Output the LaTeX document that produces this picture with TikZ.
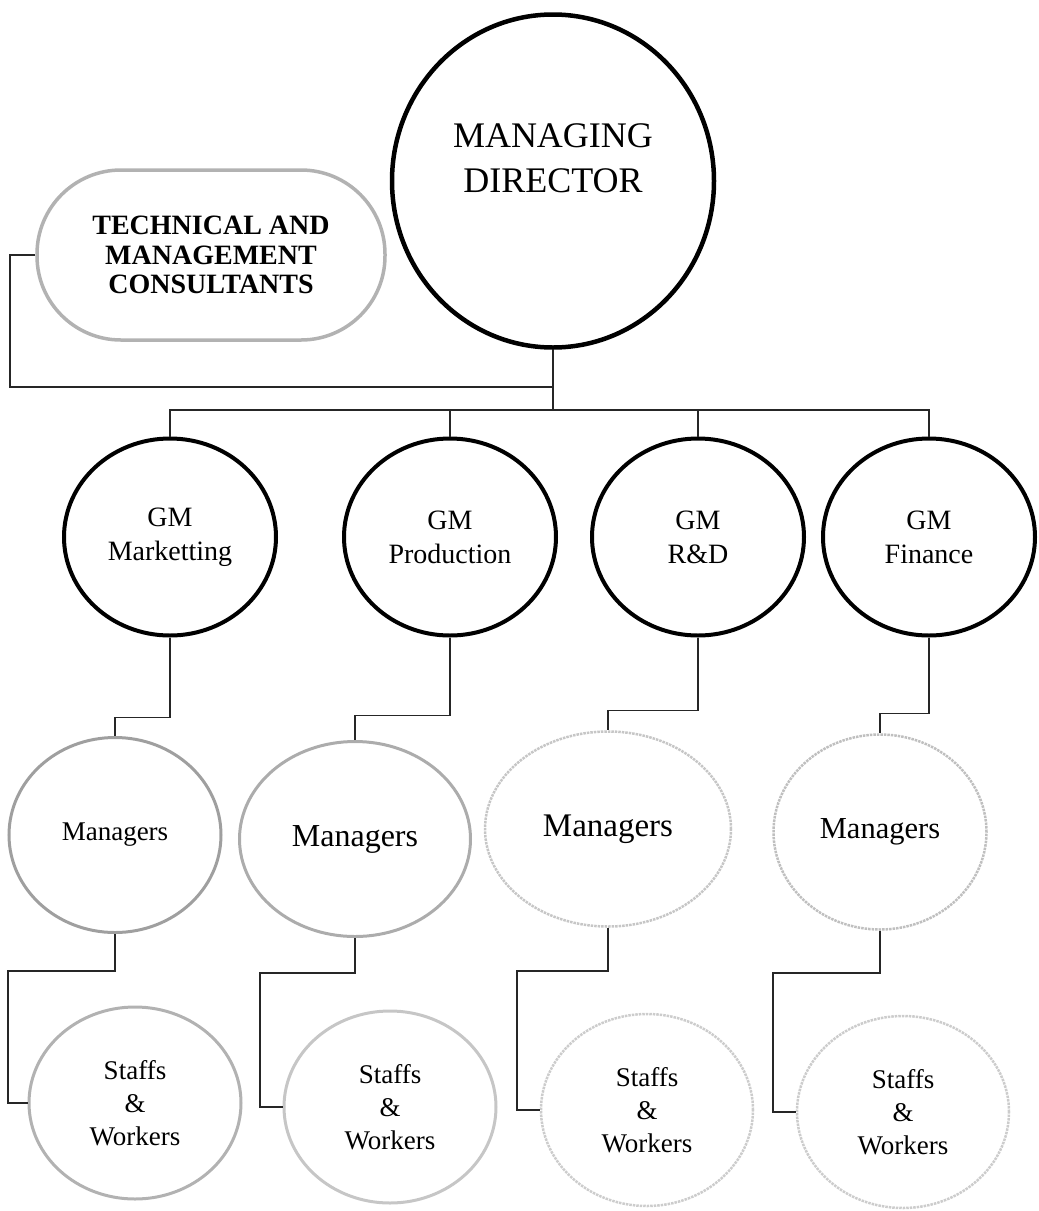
\documentclass[tikz,border=0pt]{standalone}
\usepackage{fontspec}
\setmainfont{Liberation Serif}
\usetikzlibrary{shapes.geometric}
\begin{document}
\begin{tikzpicture}[x=1pt,y=-1pt,
  conn/.style={draw=black!85, line width=1.2pt},
  oval/.style={ellipse, draw, inner sep=0pt, align=center},
  mdbox/.style={oval, line width=4.5pt, minimum width=322pt, minimum height=333pt},
  consbox/.style={rectangle, rounded corners=84pt, draw=gray!60, line width=3.5pt, minimum width=348pt, minimum height=170pt, align=center, font=\fontsize{28}{29.5}\selectfont\bfseries},
  gmbox/.style={oval, line width=4pt, minimum width=212pt, minimum height=197pt, font=\fontsize{28}{34}\selectfont},
  mgrbox/.style={oval, line width=3pt, minimum height=195pt},
  stfbox/.style={oval, line width=3pt, minimum width=212pt, minimum height=192pt, font=\fontsize{27}{33}\selectfont},
  lightline/.style={line width=2.5pt, densely dotted}
]
\useasboundingbox (0,0) rectangle (1039,1211);

% top level
\node[mdbox] (md) at (553,181) {};
\node[align=center, font=\fontsize{36}{45}\selectfont] (mdtext) at (553,158) {MANAGING\\DIRECTOR};
\node[consbox] (cons) at (211,255) {TECHNICAL AND\\MANAGEMENT\\CONSULTANTS};

% general managers
\node[gmbox] (gm1) at (170,537) {GM\\Marketting};
\node[gmbox] (gm2) at (450,537) {GM\\Production};
\node[gmbox] (gm3) at (698,537) {GM\\R\&D};
\node[gmbox] (gm4) at (929,537) {GM\\Finance};

% managers
\node[mgrbox, draw=gray!75, minimum width=212pt, font=\fontsize{27}{33}\selectfont] (m1) at (115,835) {Managers};
\node[mgrbox, draw=gray!65, minimum width=231pt, font=\fontsize{32}{38}\selectfont] (m2) at (355,839) {Managers};
\node[mgrbox, draw=gray!45, lightline, minimum width=246pt, font=\fontsize{33}{39}\selectfont] (m3) at (608,829) {Managers};
\node[mgrbox, draw=gray!50, lightline, minimum width=213pt, font=\fontsize{30.5}{36}\selectfont] (m4) at (880,832) {Managers};

% staffs
\node[stfbox, draw=gray!60] (s1) at (135,1103) {Staffs\\\&\\Workers};
\node[stfbox, draw=gray!45] (s2) at (390,1107) {Staffs\\\&\\Workers};
\node[stfbox, draw=gray!40, lightline] (s3) at (647,1110) {Staffs\\\&\\Workers};
\node[stfbox, draw=gray!40, lightline] (s4) at (903,1112) {Staffs\\\&\\Workers};

% connectors top
\coordinate (bus) at (0,410);
\coordinate (loop) at (10,387);
\draw[conn] (md.south) -- (md.south |- bus);
\draw[conn] (cons.west) -| (loop) -- (loop -| md.south);
\draw[conn] (gm1.north) |- (bus -| gm4.north) -- (gm4.north);
\draw[conn] (gm2.north) -- (gm2.north |- bus);
\draw[conn] (gm3.north) -- (gm3.north |- bus);

% GM -> managers
\draw[conn] (gm1.south) -- ++(0,80) -| (m1.north);
\draw[conn] (gm2.south) -- ++(0,78) -| (m2.north);
\draw[conn] (gm3.south) -- ++(0,73) -| (m3.north);
\draw[conn] (gm4.south) -- ++(0,76) -| (m4.north);

% managers -> staffs
\coordinate (k1) at (8,971);
\coordinate (k2) at (260,973);
\coordinate (k3) at (517,971);
\coordinate (k4) at (773,973);
\draw[conn] (m1.south) |- (k1) |- (s1.west);
\draw[conn] (m2.south) |- (k2) |- (s2.west);
\draw[conn] (m3.south) |- (k3) |- (s3.west);
\draw[conn] (m4.south) |- (k4) |- (s4.west);
\end{tikzpicture}
\end{document}
